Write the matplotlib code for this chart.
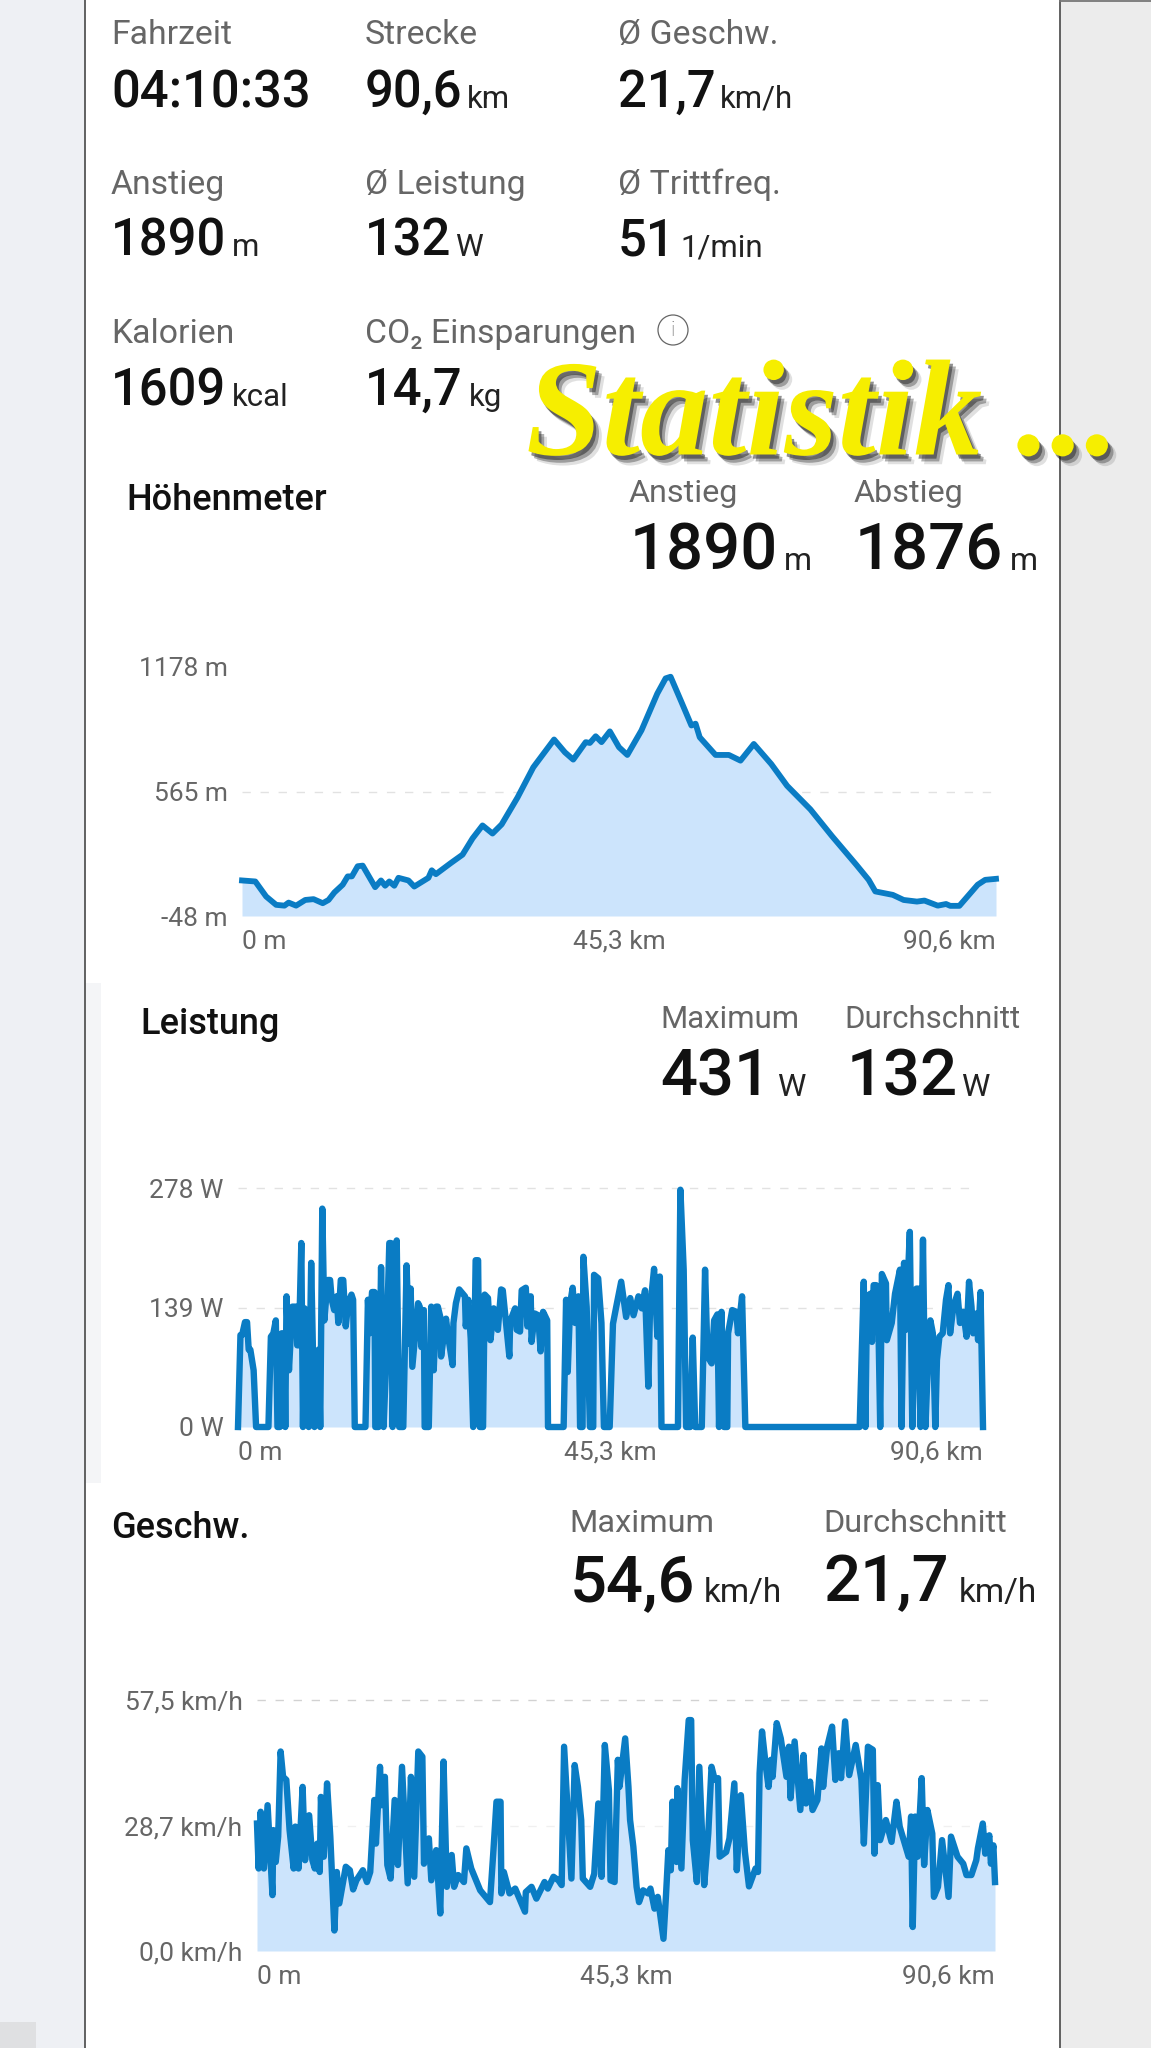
import matplotlib
matplotlib.use("Agg")
import matplotlib.pyplot as plt
import matplotlib.patheffects as pe
from matplotlib.patches import Circle, Rectangle

W, H = 1151, 2048
plt.rcParams['font.family'] = ['Roboto', 'DejaVu Sans']

# --- summary tiles: label, value, unit
tiles = [
    ("Fahrzeit", "04:10:33", ""), ("Strecke", "90,6", "km"), ("Ø Geschw.", "21,7", "km/h"),
    ("Anstieg", "1890", "m"), ("Ø Leistung", "132", "W"), ("Ø Trittfreq.", "51", "1/min"),
    ("Kalorien", "1609", "kcal"), ("CO₂ Einsparungen", "14,7", "kg"),
]
unit_x = [None, 467, 720, 232, 455, 680, 232, 469]

# --- elevation
elev_km = [0, 1.6, 2.9, 4.1, 5.1, 5.6, 6.5, 7.6, 8.6, 9.7, 10.4, 11.1, 12.1, 12.7, 13.2, 13.9, 14.5,
           16.0, 16.7, 17.2, 17.7, 18.3, 18.8, 20.0, 20.7, 22.4, 22.8, 23.3, 25.1, 26.5, 27.7, 28.9,
           30.1, 31.2, 33.1, 35.0, 37.5, 38.8, 39.8, 41.3, 41.8, 42.5, 43.2, 44.2, 45.3, 46.3, 48.0,
           49.9, 50.9, 51.5, 52.8, 54.0, 54.5, 55.0, 56.9, 58.5, 59.9, 61.5, 63.6, 65.5, 68.3, 70.9,
           73.8, 75.3, 76.1, 78.2, 79.5, 81.1, 82.0, 83.6, 84.6, 85.1, 86.2, 88.4, 89.3, 90.6]
elev_m = [127, 122, 48, 7, 3, 18, 3, 31, 35, 15, 31, 68, 106, 147, 147, 197, 200,
          94, 127, 101, 122, 101, 140, 127, 97, 140, 177, 158, 213, 254, 334, 398,
          358, 403, 535, 684, 821, 758, 722, 808, 804, 837, 808, 861, 783, 745, 866,
          1047, 1122, 1130, 1006, 890, 899, 832, 745, 745, 717, 799, 700, 593, 477, 345,
          205, 130, 73, 56, 31, 23, 28, 3, 11, 2, 2, 106, 130, 135]

# --- power
power_km = [0, 0.3, 0.5, 0.85, 1.1, 1.3, 1.5, 1.9, 2.2, 3.7, 4.0, 4.3, 4.6, 4.8, 5.1, 5.3, 5.6, 5.75, 5.9, 6.2,
            6.6, 7.1, 7.2, 7.4, 7.7, 7.9, 8.1, 8.3, 8.6, 8.9, 9.3, 9.5, 9.8, 10.0, 10.25, 10.5, 10.9, 11.2,
            11.4, 11.7, 12.0, 12.2, 12.5, 12.8, 13.1, 13.4, 13.8, 14.0, 14.2, 15.5, 15.8, 16.0, 16.3, 16.6,
            16.7, 17.1, 17.4, 17.7, 18.0, 18.4, 18.6, 18.8, 19.1, 19.3, 19.6, 20.1, 20.5, 20.8, 21.0, 21.2,
            21.9, 22.1, 22.3, 22.6, 22.7, 23.2, 23.5, 23.8, 24.1, 24.3, 24.6, 24.7, 25.3, 25.5, 26.1, 26.2,
            26.5, 26.9, 27.6, 27.7, 28.0, 28.3, 28.6, 28.9, 29.2, 29.4, 29.8, 30.0, 30.4, 30.7, 31.1, 31.6,
            32.0, 32.2, 32.6, 33.0, 33.1, 33.7, 33.9, 34.3, 34.5, 35.0, 35.2, 35.6, 35.7, 36.1, 36.5, 36.8,
            37.1, 37.6, 37.7, 39.6, 39.9, 40.1, 40.4, 40.7, 41.0, 41.4, 41.6, 41.9, 42.0, 42.4, 42.8, 43.2,
            43.3, 43.8, 44.2, 44.5, 45.2, 45.6, 46.0, 46.6, 47.2, 47.7, 48.1, 48.7, 49.1, 49.5, 49.9, 50.1,
            50.6, 51.0, 51.3, 51.5, 53.5, 53.8, 54.2, 54.5, 55.0, 55.3, 55.6, 56.4, 56.8, 57.1, 57.6, 57.9,
            58.3, 58.5, 58.8, 59.1, 59.5, 59.6, 60.1, 60.6, 60.8, 61.3, 61.7, 75.6, 76.1, 76.3, 76.5, 76.9,
            77.1, 77.3, 77.6, 77.9, 78.1, 78.3, 78.8, 78.9, 79.5, 79.9, 80.5, 80.7, 81.0, 81.2, 81.7, 82.0,
            82.5, 82.7, 83.0, 83.3, 83.6, 83.9, 84.2, 84.5, 84.8, 85.0, 85.3, 85.7, 86.1, 86.4, 86.6, 87.0,
            87.5, 87.8, 88.2, 88.6, 88.9, 89.2, 89.4, 89.8, 90.0, 90.3, 90.6]
power_w = [0, 107, 107, 122, 122, 90, 90, 66, 0, 0, 105, 109, 124, 0, 0, 109, 109, 0, 152, 66,
           140, 140, 95, 95, 214, 0, 138, 109, 0, 191, 0, 51, 90, 0, 254, 124, 171, 171,
           148, 136, 152, 121, 171, 171, 117, 144, 154, 148, 0, 0, 148, 109, 157, 157,
           0, 0, 186, 0, 70, 214, 214, 0, 148, 217, 0, 0, 188, 97, 161, 70,
           144, 140, 93, 136, 0, 0, 140, 66, 140, 140, 128, 82, 126, 109, 72, 121,
           144, 160, 152, 117, 148, 103, 0, 194, 194, 0, 0, 154, 150, 101, 138, 113,
           160, 159, 121, 82, 123, 138, 113, 111, 159, 162, 117, 152, 99, 132, 130, 88,
           134, 124, 0, 0, 148, 64, 144, 162, 121, 152, 0, 0, 198, 140, 0, 0,
           177, 173, 121, 0, 0, 120, 140, 169, 128, 150, 130, 152, 138, 159, 47, 136,
           184, 105, 175, 0, 0, 276, 183, 0, 0, 104, 0, 0, 183, 82, 74, 124,
           131, 0, 134, 0, 0, 109, 136, 134, 109, 152, 0, 0, 169, 0, 152, 155,
           99, 165, 165, 109, 0, 178, 167, 101, 121, 155, 183, 0, 191, 113, 227, 0,
           161, 161, 0, 218, 0, 74, 124, 109, 0, 78, 105, 109, 148, 165, 109, 140,
           155, 121, 134, 105, 169, 140, 109, 132, 101, 157, 0]

# --- speed
speed_km = [0, 0.2, 0.45, 0.85, 1.3, 1.9, 2.0, 2.3, 2.6, 2.9, 3.2, 3.6, 4.0, 4.5, 4.7, 5.1, 5.6, 5.9, 6.4,
            6.8, 7.1, 7.4, 7.7, 7.85, 8.2, 8.6, 9.0, 9.5, 9.8, 10.1, 10.9, 11.4, 11.8, 12.2, 13.0, 13.5,
            13.9, 14.4, 14.6, 15.1, 15.3, 15.7, 16.0, 16.4, 16.9, 17.3, 17.8, 18.5, 18.9, 19.3, 19.8,
            20.3, 20.5, 21.1, 21.4, 22.0, 22.5, 22.9, 23.3, 23.9, 24.2, 24.7, 25.4, 25.7, 26.3, 27.4,
            28.6, 29.0, 29.4, 29.9, 30.0, 30.3, 31.0, 31.7, 32.9, 33.0, 33.7, 34.3, 35.3, 35.7, 36.4,
            37.0, 37.4, 37.7, 38.6, 39.0, 39.4, 39.8, 40.0, 40.9, 41.4, 41.9, 42.3, 42.7, 43.2, 43.4,
            43.9, 44.3, 44.5, 45.2, 45.6, 45.8, 46.2, 46.6, 46.9, 47.4, 48.0, 48.3, 48.8, 49.2, 49.9,
            50.2, 50.5, 50.8, 51.0, 51.5, 51.6, 52.1, 52.5, 53.0, 53.3, 53.5, 54.0, 54.3, 54.9, 55.4,
            55.8, 56.2, 56.6, 56.8, 57.6, 58.0, 58.6, 58.9, 59.4, 59.9, 60.4, 61.2, 61.5, 61.7, 62.0,
            62.5, 62.8, 63.1, 63.3, 63.8, 64.3, 65.0, 65.3, 65.5, 66.0, 66.7, 67.1, 67.4, 67.9, 68.2,
            68.8, 69.3, 69.5, 70.0, 70.6, 71.0, 71.4, 71.7, 72.2, 72.7, 73.5, 74.2, 74.5, 75.0, 75.6,
            75.8, 76.2, 76.5, 77.2, 77.9, 78.5, 78.9, 80.0, 80.3, 80.5, 80.8, 81.1, 81.6, 81.9, 82.3,
            82.9, 83.1, 83.6, 84.1, 84.9, 85.2, 86.0, 86.7, 87.1, 87.7, 88.3, 88.5, 89.1, 89.4, 89.9,
            90.1, 90.4, 90.6]
speed_kmh = [29.2, 18.9, 31.9, 18.9, 33.4, 12.8, 27.7, 20.4, 26.2, 45.7, 39.9, 39.2, 27.7, 18.9, 28.5, 18.9, 37.6, 20.8, 31.1,
             20.8, 18.9, 24.6, 18.1, 35.3, 21.6, 38.4, 26.2, 4.7, 18.1, 10.9, 19.3, 18.5, 14.1, 16.2, 18.5, 15.8,
             18.1, 34.6, 24.6, 42.2, 33.4, 39.9, 19.7, 16.6, 34.6, 19.7, 42.2, 15.5, 39.9, 17.0, 45.7,
             44.5, 20.0, 25.8, 16.2, 23.1, 8.6, 43.4, 14.7, 22.0, 14.7, 17.4, 15.8, 23.5, 18.9, 13.9,
             11.2, 22.3, 34.2, 34.2, 13.2, 18.1, 13.2, 14.3, 9.0, 13.5, 14.7, 12.0, 15.8, 14.3, 17.0,
             16.2, 15.1, 46.8, 16.6, 42.6, 37.6, 30.0, 16.6, 14.7, 17.7, 33.8, 17.0, 47.2, 36.9, 16.2,
             15.8, 43.8, 37.6, 48.7, 37.6, 30.0, 23.9, 14.7, 11.2, 13.9, 13.2, 14.3, 9.7, 12.4, 2.8,
             12.4, 23.1, 18.5, 34.2, 20.4, 37.3, 18.9, 39.2, 52.9, 52.9, 25.4, 15.8, 42.2, 15.1, 26.9,
             42.2, 39.2, 39.6, 21.6, 22.7, 25.8, 38.4, 18.5, 35.7, 22.7, 14.8, 18.9, 18.1, 40.7, 50.3,
             41.8, 37.6, 43.8, 39.9, 52.2, 48.7, 39.9, 46.8, 35.0, 48.0, 32.3, 44.9, 33.8, 38.8, 32.3,
             34.6, 46.4, 37.6, 46.8, 51.4, 39.2, 45.3, 39.6, 52.6, 40.3, 47.2, 39.2, 24.6, 46.8, 46.1,
             22.3, 38.0, 25.4, 30.0, 25.0, 34.2, 28.5, 21.6, 30.8, 5.5, 30.8, 21.6, 39.6, 19.7, 32.3,
             26.9, 12.4, 14.7, 25.4, 12.4, 26.2, 21.6, 20.0, 17.4, 17.4, 20.8, 23.5, 29.2, 22.3, 26.5,
             20.0, 24.2, 15.8]

x_labels = ["0 m", "45,3 km", "90,6 km"]
LINE = "#0a7cc4"
FILL = "#cce4fc"
GREY = "#666666"

fig = plt.figure(figsize=(W / 100, H / 100), dpi=100, facecolor="white")
bg = fig.add_axes([0, 0, 1, 1])
bg.set_xlim(0, W)
bg.set_ylim(H, 0)
bg.axis("off")

# page background, phone frame
bg.add_patch(Rectangle((0, 0), 85, H, color="#eef0f4", lw=0))
bg.add_patch(Rectangle((1060, 0), 91, H, color="#ececec", lw=0))
bg.add_patch(Rectangle((85, 983), 16, 500, color="#f4f5f7", lw=0))
bg.add_patch(Rectangle((0, 2022), 36, 26, color="#dfe0e2", lw=0))
bg.plot([85, 85], [0, H], color="#555555", lw=1.3)
bg.plot([1060, 1060], [0, H], color="#555555", lw=1.3)
bg.plot([1060, W], [1, 1], color="#777777", lw=1.3)


def label(x, y, s, size=24.3, color=GREY):
    bg.text(x - 1, y + 2, s, fontsize=size, color=color, va="center", ha="left")


def value(x, y, s, size=36.5):
    bg.text(x - 1, y + 3, s, fontsize=size, color="#111111", va="center", ha="left", fontweight="medium")


def unit(x, y, s, size=23):
    bg.text(x, y, s, fontsize=size, color="#222222", va="center", ha="left")


def header(x, y, s):
    bg.text(x - 1, y + 2, s, fontsize=26, fontweight="medium", color="#111111", va="center")


col_x = [112, 366, 619]
row_y = [(33, 90), (183, 239), (332, 388)]
for i, (lab, val, un) in enumerate(tiles):
    x = col_x[i % 3]
    y_lab, y_val = row_y[i // 3]
    label(x, y_lab, lab)
    value(x, y_val, val)
    if un:
        unit(unit_x[i], y_val + 9, un, size=22.5)

# info icon next to the CO2 tile
bg.add_patch(Circle((673, 330), 15, fill=False, ec="#666666", lw=0.9))
bg.text(673, 330, "i", fontsize=15, color="#555555", ha="center", va="center", fontweight="light")

# overlay title
shadow = [pe.SimplePatchShadow(offset=(6, -7), shadow_rgbFace="#333333", alpha=0.15),
          pe.SimplePatchShadow(offset=(4, -5), shadow_rgbFace="#222222", alpha=0.35),
          pe.SimplePatchShadow(offset=(2, -3), shadow_rgbFace="#222222", alpha=0.5),
          pe.Normal()]
bg.text(526, 421, "Statistik ...", fontsize=98.5, family="Liberation Serif", fontweight="bold",
        fontstyle="italic", color="#f6ee00", va="center", ha="left", path_effects=shadow)

# section headers
BIG = 47
header(127, 498, "Höhenmeter")
label(630, 492, "Anstieg", size=23.3)
label(855, 492, "Abstieg", size=23.3)
value(631, 549, "1890", size=BIG)
unit(784, 562, "m")
value(856, 549, "1876", size=BIG)
unit(1010, 562, "m")

header(141, 1023, "Leistung")
label(661, 1018, "Maximum", size=22.4)
label(845, 1018, "Durchschnitt", size=22.4)
value(661, 1074, "431", size=BIG)
unit(777, 1087, "W")
value(848, 1074, "132", size=BIG)
unit(961, 1087, "W")

header(112, 1527, "Geschw.")
label(570, 1521, "Maximum", size=23.4)
label(824, 1521, "Durchschnitt", size=23.4)
value(571, 1580, "54,6", size=BIG)
unit(704, 1593, "km/h", size=24)
value(824, 1580, "21,7", size=BIG)
unit(959, 1593, "km/h", size=24)


def chart(x0, x1, y_top, y_base, xs, ys, yticks, ylabels, grid_end, grid_colors, lw):
    ax = fig.add_axes([x0 / W, 1 - y_base / H, (x1 - x0) / W, (y_base - y_top) / H])
    ax.patch.set_alpha(0)
    ax.set_xlim(0, 90.6)
    ax.set_ylim(yticks[0], yticks[-1])
    for s in ax.spines.values():
        s.set_visible(False)
    for t, c in zip(yticks[1:], grid_colors):
        ax.plot([0, grid_end], [t, t], color=c, lw=1, dashes=(6, 7), zorder=1, clip_on=False)
    ax.fill_between(xs, ys, yticks[0], color=FILL, lw=0, zorder=2)
    ax.plot(xs, ys, color=LINE, lw=lw, solid_joinstyle="round", zorder=3, clip_on=False)
    ax.set_yticks(yticks, ylabels)
    ax.set_xticks([0, 45.3, 90.6], x_labels)
    ax.tick_params(length=0, labelsize=19, labelcolor=GREY)
    ax.tick_params(axis="x", pad=10)
    ax.tick_params(axis="y", pad=10.5)
    for lab, ha in zip(ax.get_xticklabels(), ["left", "center", "right"]):
        lab.set_ha(ha)
    return ax


chart(242, 996, 667, 916, elev_km, elev_m, [-48, 565, 1178], ["-48 m", "565 m", "1178 m"],
      90.6, ["#e2e2e2", "#ffffff"], 4.2)
ax2 = chart(238, 983, 1188, 1427, power_km, power_w, [0, 139, 278], ["0 W", "139 W", "278 W"],
            90.0, ["#e2e2e2", "#e2e2e2"], 4.6)
ax2.axhline(0, color="#b5b5b5", lw=1, zorder=1)
chart(257, 995, 1700, 1951, speed_km, speed_kmh, [0, 28.7, 57.5], ["0,0 km/h", "28,7 km/h", "57,5 km/h"],
      90.0, ["#f0f0f0", "#d2d2d2"], 4.6)

fig.savefig("out.png", dpi=100)
